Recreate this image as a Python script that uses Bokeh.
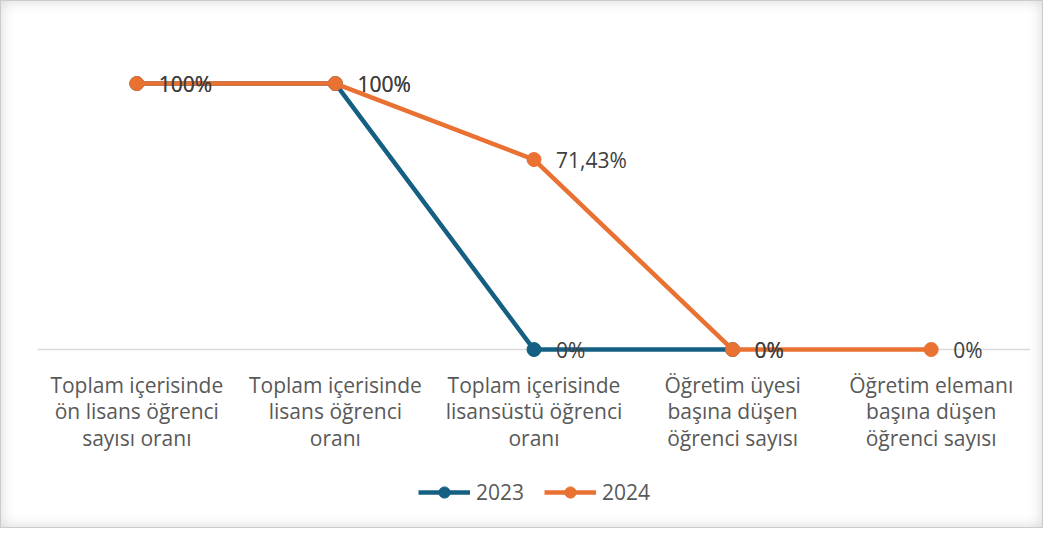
from bokeh.plotting import figure
from bokeh.models import FixedTicker, Legend, LegendItem, ColumnDataSource, Range1d
from bokeh.core.properties import value
from bokeh.embed import file_html
from bokeh.resources import INLINE

categories = [
    "Toplam içerisinde\nön lisans öğrenci\nsayısı oranı",
    "Toplam içerisinde\nlisans öğrenci\noranı",
    "Toplam içerisinde\nlisansüstü öğrenci\noranı",
    "Öğretim üyesi\nbaşına düşen\nöğrenci sayısı",
    "Öğretim elemanı\nbaşına düşen\nöğrenci sayısı",
]
series_names = ["2023", "2024"]
values_2023 = [100, 100, 0, 0, None]
values_2024 = [100, 100, 71.43, 0, 0]
colors = ["#156082", "#E97132"]

FONT = "Open Sans"
FS = "21px"

def fmt(v):
    return f"{v:g}%".replace(".", ",")

p = figure(frame_width=993, frame_height=499, output_backend="svg", toolbar_location=None,
           x_range=Range1d(-0.5, 4.5), y_range=Range1d(-66.9, 120.7),
           min_border_left=36, min_border_right=12, min_border_top=27,
           min_border_bottom=0)
p.outline_line_color = None
p.border_fill_alpha = 0
p.background_fill_alpha = 0
p.styles = {"border": "1px solid #cccccc", "background": "white",
            "box-shadow": "inset 0 0 14px rgba(0,0,0,0.16)"}

p.yaxis.visible = False
p.xaxis.visible = False
p.xgrid.visible = False
p.ygrid.ticker = FixedTicker(ticks=[0])
p.ygrid.grid_line_color = "#D9D9D9"
p.ygrid.grid_line_width = 1.5

# category labels under the zero line
cat_src = ColumnDataSource(dict(x=list(range(len(categories))),
                                y=[0] * len(categories), lab=categories))
p.text("x", "y", text="lab", source=cat_src, y_offset=21,
       text_align="center", text_baseline="top", text_line_height=0.95,
       text_font=value(FONT), text_font_size=FS, text_color="#595959")

items = []
for name, vals, col in zip(series_names, [values_2023, values_2024], colors):
    xs = [i for i, v in enumerate(vals) if v is not None]
    ys = [v for v in vals if v is not None]
    src = ColumnDataSource(dict(x=xs, y=ys))
    ln = p.line("x", "y", source=src, line_color=col, line_width=4.5)
    sc = p.scatter("x", "y", source=src, size=14, fill_color=col, line_color=col)
    items.append(LegendItem(label=name, renderers=[ln, sc]))

for vals in [values_2023, values_2024]:
    xs = [i for i, v in enumerate(vals) if v is not None]
    ys = [v for v in vals if v is not None]
    src = ColumnDataSource(dict(x=xs, y=ys, lab=[fmt(v) for v in ys]))
    p.text("x", "y", text="lab", source=src, x_offset=22, y_offset=0,
           text_align="left", text_baseline="middle",
           text_font=value(FONT), text_font_size=FS, text_color="#404040")

legend = Legend(items=items, orientation="horizontal", location=(381, 21),
                label_text_font=FONT, label_text_font_size=FS,
                label_text_color="#595959", glyph_width=52, glyph_height=28,
                spacing=20, label_standoff=6, border_line_color=None,
                background_fill_alpha=0, margin=0, padding=0)
p.add_layout(legend, "center")

open("out.html", "w").write(file_html(p, INLINE))
